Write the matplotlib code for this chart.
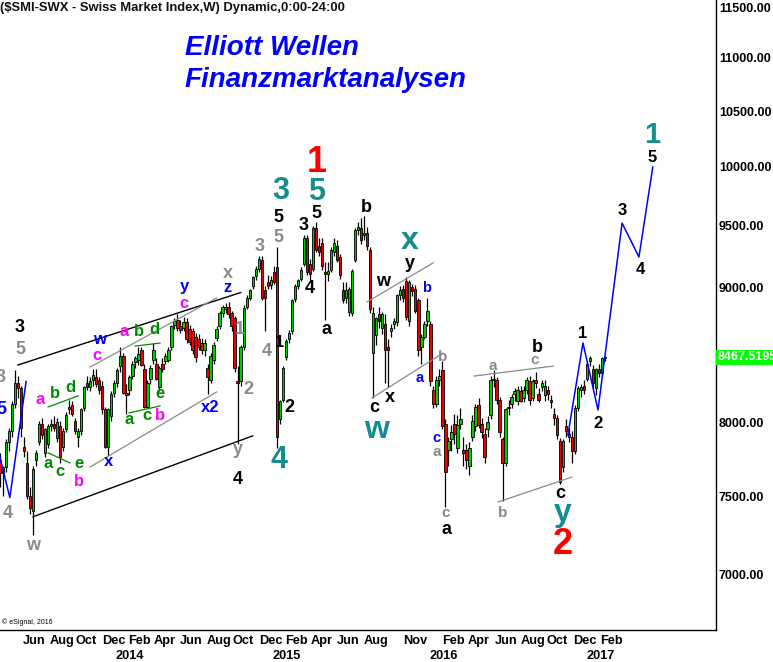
import numpy as np
import pandas as pd
import matplotlib
matplotlib.use('Agg')
import matplotlib.pyplot as plt
from matplotlib import font_manager
from matplotlib.ticker import FixedLocator, FuncFormatter, NullLocator

plt.rcParams['font.family'] = ['Liberation Sans', 'DejaVu Sans']

# weekly SMI candles, first week starts 2013-04-08
first_week = pd.Timestamp('2013-04-08')
opens = [7740, 7650, 7690, 7860, 7940, 8130, 8280, 8240, 7830, 7720,
         7500, 7400, 7740, 7860, 7990, 7790, 7850, 7970, 7990, 7890,
         7970, 7830, 7950, 8090, 8120, 8010, 7900, 7940, 8100, 8280,
         8250, 8300, 8320, 8300, 8260, 8090, 7830, 8040, 8210, 8280,
         8400, 8480, 8210, 8230, 8330, 8430, 8450, 8520, 8380, 8110,
         8310, 8450, 8420, 8250, 8420, 8440, 8450, 8540, 8710, 8750,
         8700, 8690, 8730, 8680, 8660, 8620, 8600, 8570, 8520, 8390,
         8300, 8450, 8610, 8700, 8800, 8830, 8850, 8800, 8760, 8290,
         8290, 8540, 8850, 8920, 9010, 9090, 9150, 9220, 8980, 9040,
         9020, 9120, 9160, 8020, 8160, 8470, 8600, 8660, 8910, 9010,
         9070, 9190, 9400, 9190, 9150, 9480, 9330, 9360, 9120, 9110,
         9140, 9280, 9330, 9240, 8980, 8920, 8810, 8800, 9220, 9460,
         9480, 9420, 9440, 9300, 8500, 8630, 8790, 8690, 8720, 8540,
         8660, 8720, 8730, 8940, 8990, 9050, 8740, 9000, 8990, 8900,
         8540, 8620, 8740, 8720, 8230, 8130, 8300, 8370, 7990, 7810,
         7880, 7990, 7820, 7990, 7810, 7810, 7700, 7900, 7970, 8120,
         7990, 7920, 7950, 8050, 8300, 8300, 8160, 7880, 7720, 8100,
         8130, 8200, 8150, 8220, 8170, 8230, 8290, 8170, 8300, 8200,
         8250, 8190, 8230, 8160, 8060, 8030, 7870, 7690, 7970, 7920,
         7900, 7800, 8100, 8230, 8260, 8310, 8440, 8380, 8240, 8380,
         8350, 8460]
highs = [7790, 7700, 7880, 7960, 8150, 8370, 8330, 8260, 7900, 7800,
         7560, 7700, 7810, 8010, 8030, 7960, 7990, 8020, 8040, 8030,
         8010, 7960, 8070, 8160, 8150, 8030, 7960, 8100, 8260, 8330,
         8320, 8380, 8380, 8320, 8290, 8110, 8100, 8220, 8300, 8390,
         8540, 8500, 8270, 8340, 8440, 8480, 8540, 8540, 8420, 8300,
         8410, 8570, 8460, 8400, 8460, 8500, 8540, 8710, 8760, 8790,
         8750, 8770, 8760, 8710, 8690, 8650, 8640, 8610, 8600, 8420,
         8500, 8580, 8700, 8820, 8860, 8880, 8890, 8820, 8780, 8400,
         8560, 8860, 8940, 8990, 9090, 9170, 9250, 9250, 9010, 9100,
         9090, 9170, 9320, 8160, 8400, 8600, 8670, 8910, 9030, 9070,
         9160, 9420, 9420, 9230, 9500, 9530, 9400, 9400, 9200, 9200,
         9320, 9400, 9380, 9270, 9040, 9040, 9000, 9150, 9480, 9530,
         9560, 9580, 9490, 9320, 8850, 8770, 8850, 8810, 8790, 8600,
         8720, 8760, 8950, 9010, 9020, 9080, 9060, 9030, 9020, 8920,
         8640, 8740, 8920, 8740, 8260, 8330, 8380, 8440, 8020, 7900,
         7980, 8060, 8050, 8100, 7900, 7850, 7860, 8050, 8130, 8170,
         8030, 7960, 8040, 8330, 8370, 8320, 8180, 7900, 8100, 8160,
         8200, 8240, 8260, 8260, 8260, 8320, 8330, 8310, 8360, 8240,
         8300, 8300, 8260, 8190, 8100, 8050, 7890, 7880, 8020, 7960,
         7940, 8120, 8260, 8270, 8300, 8440, 8480, 8410, 8390, 8420,
         8470, 8480]
lows = [7560, 7500, 7660, 7800, 7900, 8100, 8170, 7900, 7760, 7480,
        7380, 7250, 7700, 7840, 7880, 7760, 7820, 7940, 7940, 7860,
        7720, 7800, 7930, 8060, 8040, 7920, 7830, 7910, 8080, 8230,
        8220, 8260, 8250, 8200, 8060, 7820, 7770, 8010, 8180, 8250,
        8360, 8200, 8060, 8190, 8310, 8390, 8410, 8400, 8100, 8100,
        8270, 8420, 8300, 8220, 8360, 8420, 8430, 8520, 8680, 8660,
        8650, 8660, 8570, 8560, 8490, 8430, 8520, 8490, 8480, 8200,
        8280, 8420, 8590, 8680, 8770, 8800, 8760, 8660, 8360, 7850,
        8260, 8520, 8830, 8900, 8990, 9060, 9120, 8900, 8660, 8990,
        8990, 9030, 7820, 7990, 8140, 8450, 8570, 8640, 8890, 8990,
        9050, 9170, 9100, 9060, 9130, 9280, 9250, 9140, 8750, 9050,
        9120, 9250, 9200, 9070, 8880, 8880, 8780, 8780, 9200, 9420,
        9350, 9380, 9300, 8800, 8170, 8560, 8690, 8640, 8280, 8250,
        8620, 8680, 8700, 8900, 8890, 8750, 8700, 8930, 8800, 8480,
        8420, 8600, 8700, 8260, 8100, 8110, 8260, 7950, 7430, 7700,
        7800, 7850, 7790, 7950, 7700, 7680, 7640, 7870, 7940, 7960,
        7890, 7720, 7900, 8020, 8250, 8130, 7900, 7470, 7700, 8050,
        8100, 8150, 8120, 8140, 8140, 8200, 8120, 8150, 8240, 8140,
        8220, 8150, 8160, 8100, 7980, 7880, 7580, 7660, 7900, 7860,
        7720, 7780, 8080, 8180, 8200, 8290, 8400, 8250, 8190, 8320,
        8330, 8440]
closes = [7650, 7690, 7860, 7940, 8130, 8280, 8240, 7960, 7800, 7500,
          7420, 7680, 7790, 7990, 7910, 7950, 7970, 7990, 7960, 8000,
          7760, 7940, 8050, 8110, 8060, 7940, 7940, 8090, 8250, 8250,
          8290, 8340, 8270, 8230, 8090, 7830, 8090, 8200, 8280, 8370,
          8480, 8210, 8190, 8320, 8420, 8460, 8490, 8410, 8110, 8280,
          8390, 8520, 8310, 8390, 8380, 8480, 8520, 8700, 8740, 8690,
          8670, 8730, 8600, 8580, 8520, 8470, 8540, 8520, 8570, 8320,
          8480, 8560, 8680, 8800, 8850, 8850, 8790, 8700, 8390, 8280,
          8540, 8840, 8920, 8980, 9080, 9150, 9230, 8920, 8920, 9010,
          9060, 9040, 7900, 8150, 8390, 8590, 8650, 8900, 9010, 9060,
          9140, 9400, 9120, 9110, 9480, 9300, 9280, 9170, 9110, 9130,
          9300, 9360, 9220, 9100, 8900, 8980, 8990, 9130, 9460, 9490,
          9380, 9440, 9330, 8830, 8800, 8760, 8740, 8790, 8520, 8520,
          8690, 8740, 8940, 8980, 8920, 8770, 9040, 8970, 8820, 8520,
          8620, 8720, 8820, 8290, 8130, 8300, 8330, 7970, 7660, 7870,
          7930, 7920, 7980, 8020, 7790, 7740, 7820, 8010, 8110, 7980,
          7930, 7760, 8000, 8300, 8310, 8160, 7930, 7720, 8090, 8110,
          8180, 8220, 8230, 8150, 8230, 8300, 8160, 8290, 8280, 8160,
          8280, 8260, 8200, 8140, 8030, 7910, 7590, 7870, 7940, 7900,
          7800, 8100, 8240, 8250, 8230, 8420, 8460, 8280, 8380, 8350,
          8460, 8467.52]
last_price = '8467.5195'

# trend lines and projection: (week index, price)
channel_top = [(6, 8410), (80, 8960)]
channel_bottom = [(11, 7365), (84, 7905)]
inner_top = [(30, 8395), (72, 8918)]
inner_bottom = [(30, 7693), (72, 8214)]
tri1_top = [(16, 8107), (26, 8186)]
tri1_bottom = [(16, 7789), (23.3, 7720)]
tri2_top = [(44.9, 8550), (53.2, 8573)]
tri2_bottom = [(42.9, 8065), (53.2, 8114)]
wxy_top = [(122, 8887), (143.9, 9195)]
wxy_bottom = [(123.6, 8171), (147.2, 8498)]
range16_top = [(157.5, 8329), (183.8, 8402)]
range16_bottom = [(165.5, 7461), (190, 7625)]
blue_left = [(0, 7760), (3.3, 7490), (8.7, 8290)]
blue_path = [(188.7, 7911), (193.7, 8574), (198.7, 8086), (206.7, 9521),
             (212.3, 9243), (216.9, 9999)]

# 8500.00 sits behind the last-price box in the original
price_ticks = [7000, 7500, 8000, 9000, 9500, 10000, 10500, 11000, 11500]
month_labels = [('2013-06', 'Jun'), ('2013-08', 'Aug'), ('2013-10', 'Oct'), ('2013-12', 'Dec'),
                ('2014-02', 'Feb'), ('2014-04', 'Apr'), ('2014-06', 'Jun'), ('2014-08', 'Aug'),
                ('2014-10', 'Oct'), ('2014-12', 'Dec'), ('2015-02', 'Feb'), ('2015-04', 'Apr'),
                ('2015-06', 'Jun'), ('2015-08', 'Aug'), ('2015-11', 'Nov'), ('2016-02', 'Feb'),
                ('2016-04', 'Apr'), ('2016-06', 'Jun'), ('2016-08', 'Aug'), ('2016-10', 'Oct'),
                ('2016-12', 'Dec'), ('2017-02', 'Feb')]
year_labels = ['2014', '2015', '2016', '2017']

TEAL = '#138d8f'
GRAY = '#8a8a8a'
MAG = '#ff00ff'
GRN = '#008a00'
BLUE = '#0000ff'
RED = '#ff0000'
BLK = '#000000'
# wave labels: text, pixel x, pixel y (inside plot), colour, size
wave_labels = [
    ('3', 1, 378, GRAY, 13), ('5', 1, 410, BLUE, 13),
    ('3', 20, 327, BLK, 13), ('5', 20, 350, GRAY, 13), ('4', 8, 513, GRAY, 13),
    ('w', 33, 545, GRAY, 13),
    ('a', 40, 399, MAG, 12), ('b', 55, 393, GRN, 12), ('d', 70, 387, GRN, 12),
    ('a', 48, 463, GRN, 12), ('c', 60, 472, GRN, 12), ('e', 79, 463, GRN, 12),
    ('b', 79, 482, MAG, 12), ('w', 99, 339, BLUE, 12), ('c', 97, 355, MAG, 12),
    ('x', 109, 461, BLUE, 12), ('a', 124, 331, MAG, 12), ('b', 139, 331, GRN, 12),
    ('d', 154, 330, GRN, 12), ('a', 129, 419, GRN, 12), ('c', 147, 416, GRN, 12),
    ('e', 160, 394, GRN, 12), ('b', 160, 415, MAG, 12), ('y', 184, 287, BLUE, 12),
    ('c', 184, 303, MAG, 12), ('x2', 210, 407, BLUE, 12), ('x', 228, 273, GRAY, 13),
    ('z', 227, 288, BLUE, 12), ('1', 240, 330, GRAY, 13), ('2', 248, 389, GRAY, 13),
    ('y', 238, 450, GRAY, 13), ('4', 238, 480, BLK, 13),
    ('3', 260, 247, GRAY, 13), ('5', 278, 237, GRAY, 13), ('5', 278, 218, BLK, 13),
    ('3', 281, 191, TEAL, 22), ('4', 267, 352, GRAY, 13), ('1', 280, 343, BLK, 12),
    ('2', 289, 408, BLK, 13), ('4', 279, 460, TEAL, 22), ('1', 317, 162, RED, 26),
    ('5', 317, 192, TEAL, 22), ('5', 316, 214, BLK, 13), ('3', 304, 225, BLK, 13),
    ('4', 310, 289, BLK, 13), ('a', 326, 330, BLK, 13), ('b', 366, 208, BLK, 13),
    ('x', 410, 241, TEAL, 23), ('y', 410, 263, BLK, 13), ('w', 383, 281, BLK, 13),
    ('b', 427, 288, BLUE, 10.5), ('a', 420, 378, BLUE, 10.5), ('c', 374, 408, BLK, 13),
    ('x', 390, 398, BLK, 13), ('w', 377, 430, TEAL, 23), ('c', 436, 438, BLUE, 10.5),
    ('b', 443, 357, GRAY, 11), ('a', 437, 452, GRAY, 11), ('c', 446, 513, GRAY, 11),
    ('a', 446, 530, BLK, 13), ('a', 493, 366, GRAY, 11), ('b', 537, 347, BLK, 13),
    ('c', 535, 360, GRAY, 11), ('b', 503, 513, GRAY, 11), ('c', 560, 493, BLK, 13),
    ('y', 563, 513, TEAL, 23), ('2', 563, 545, RED, 26), ('1', 583, 333, BLK, 12),
    ('2', 598, 423, BLK, 12), ('3', 622, 211, BLK, 12), ('4', 640, 269, BLK, 12),
    ('5', 652, 158, BLK, 12), ('1', 652, 135, TEAL, 21),
]

W, H = 773, 662
AX_W, AX_H = 716, 630

# narrow font for the date axis if one is installed
try:
    font_manager.findfont('Liberation Sans Narrow', fallback_to_default=False)
    date_font, date_size = 'Liberation Sans Narrow', 11
except ValueError:
    date_font, date_size = 'Liberation Sans', 9.2

opens = np.array(opens, float)
highs = np.array(highs, float)
lows = np.array(lows, float)
closes = np.array(closes, float)
weeks = np.arange(len(closes))

fig = plt.figure(figsize=(W / 100, H / 100), dpi=100)
ax = fig.add_axes([0, (H - AX_H) / H, AX_W / W, AX_H / H])
ax.set_yscale('log')
ax.set_ylim(6671, 11571)
ax.set_xlim(0.037, 237.9)

# candles
up = closes >= opens
body_lo = np.minimum(opens, closes)
body_hi = np.maximum(opens, closes)
ax.vlines(weeks, lows, highs, color='black', lw=0.9, zorder=2)
ax.bar(weeks, body_hi - body_lo, bottom=body_lo, width=0.8,
       color=np.where(up, '#00cc00', '#ee0000'), edgecolor='black', lw=0.6, zorder=3)

def draw(pts, color, lw=1.0):
    xs, ys = zip(*pts)
    ax.plot(xs, ys, color=color, lw=lw, zorder=4)

draw(channel_top, 'black'); draw(channel_bottom, 'black')
draw(inner_top, GRAY, 0.9); draw(inner_bottom, GRAY, 0.9)
for seg in (tri1_top, tri1_bottom, tri2_top, tri2_bottom):
    draw(seg, GRN, 0.9)
for seg in (wxy_top, wxy_bottom, range16_top, range16_bottom):
    draw(seg, GRAY, 0.9)
draw(blue_left, BLUE, 1.1)
draw(blue_path, BLUE, 1.1)

# axes styling
for s in ('top', 'left'):
    ax.spines[s].set_visible(False)
for s in ('right', 'bottom'):
    ax.spines[s].set_color('black')
    ax.spines[s].set_linewidth(1.0)
ax.set_xticks([])
ax.yaxis.tick_right()
ax.yaxis.set_major_locator(FixedLocator(price_ticks))
ax.yaxis.set_minor_locator(NullLocator())
ax.yaxis.set_major_formatter(FuncFormatter(lambda v, p: '%.2f' % v))
ax.tick_params(axis='y', length=0, pad=2, labelsize=9)
for lab in ax.get_yticklabels():
    lab.set_fontweight('bold')

ax.text(1.002, float(last_price), last_price, transform=ax.get_yaxis_transform(),
        ha='left', va='center', color='white', fontsize=9, fontweight='bold',
        bbox=dict(facecolor='#00ff00', edgecolor='none', pad=1.2), zorder=10, clip_on=False)

# date axis labels
xt = ax.get_xaxis_transform()
for ym, lab in month_labels:
    k = (pd.Timestamp(ym + '-01') - first_week).days / 7
    ax.text(k, -11 / AX_H, lab, transform=xt, ha='left', va='center', fontsize=date_size,
            fontweight='bold', family=date_font)
for yr in year_labels:
    k = (pd.Timestamp(yr + '-01-01') - first_week).days / 7
    ax.text(k, -26 / AX_H, yr, transform=xt, ha='left', va='center', fontsize=date_size,
            fontweight='bold', family=date_font)

# wave count labels
for txt, px, py, col, size in wave_labels:
    ax.text(px / AX_W, 1 - py / AX_H, txt, transform=ax.transAxes, color=col,
            fontsize=size, fontweight='bold', ha='center', va='center', zorder=6)

fig.text(0, 1 - 8 / H, '($SMI-SWX - Swiss Market Index,W) Dynamic,0:00-24:00',
         ha='left', va='center', fontsize=9.4, fontweight='bold', color='#111111')
fig.text(185 / W, 1 - 55 / H, 'Elliott Wellen', ha='left', va='baseline',
         fontsize=20, fontweight='bold', style='italic', color=BLUE)
fig.text(185 / W, 1 - 87 / H, 'Finanzmarktanalysen', ha='left', va='baseline',
         fontsize=20, fontweight='bold', style='italic', color=BLUE)
fig.text(2 / W, 1 - 622 / H, '\u00a9 eSignal, 2016', ha='left', va='center', fontsize=5)

fig.savefig('out.png', dpi=100, facecolor='white')
